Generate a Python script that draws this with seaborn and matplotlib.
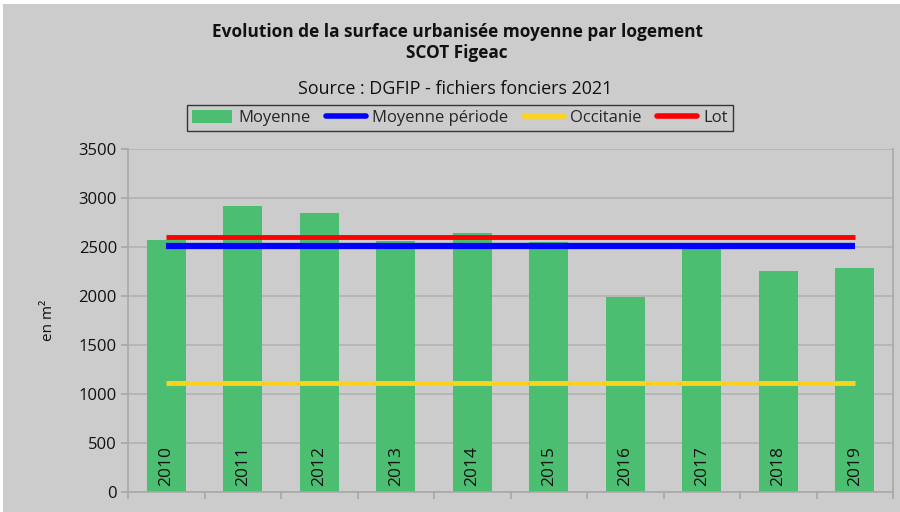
import matplotlib
matplotlib.use('Agg')
import matplotlib.pyplot as plt
from matplotlib.lines import Line2D
from matplotlib.patches import Patch, Rectangle
import pandas as pd
import seaborn as sns

# Data
years = ['2010', '2011', '2012', '2013', '2014',
         '2015', '2016', '2017', '2018', '2019']
moyenne = [2570, 2915, 2845, 2560, 2640, 2550, 1990, 2505, 2255, 2285]
moyenne_periode = 2510
occitanie = 1110
lot = 2600

GREY = '#cccccc'
GREEN = '#4cbe72'

sns.set_theme(style='white')
plt.rcParams['font.family'] = ['Open Sans', 'DejaVu Sans']

df = pd.DataFrame({'annee': years, 'surface': moyenne})

fig = plt.figure(figsize=(9, 5.12), dpi=100, facecolor='white')
fig.add_artist(Rectangle((3 / 900, 0), 1, 1 - 4 / 512, transform=fig.transFigure,
                         facecolor=GREY, edgecolor='none', zorder=-10))
ax = fig.add_axes([128 / 900, 20 / 512, 765 / 900, 343 / 512])
ax.set_facecolor(GREY)

sns.barplot(data=df, x='annee', y='surface', color=GREEN, saturation=1,
            width=0.51, ax=ax, zorder=2, linewidth=0, edgecolor='none')

xs = list(range(len(years)))
ax.plot(xs, [moyenne_periode] * len(years), color='#0000ff', lw=4.5, zorder=4,
        solid_capstyle='butt')
ax.plot(xs, [occitanie] * len(years), color='#ffd21e', lw=3.5, zorder=4,
        solid_capstyle='butt')
ax.plot(xs, [lot] * len(years), color='#ff0000', lw=3.5, zorder=4,
        solid_capstyle='butt')

for i, y in enumerate(years):
    ax.text(i, 65, y, rotation=90, ha='center', va='bottom', fontsize=12.5,
            color='#111111', zorder=5)

ax.set_xlim(-0.5, len(years) - 0.5)
ax.set_ylim(0, 3500)
ax.set_yticks(range(0, 3501, 500))
ax.tick_params(axis='y', labelsize=12, length=5, color='#a8a8a8',
               labelcolor='#111111', left=True, pad=3)
ax.set_xticks([i - 0.5 for i in range(len(years) + 1)])
ax.set_xticklabels([])
ax.tick_params(axis='x', length=5, color='#a8a8a8', bottom=True)
ax.set_xlabel('')
ax.set_ylabel('en m²', fontsize=11, color='#111111', labelpad=16)
ax.grid(axis='y', color='#b2b2b2', lw=1.2, zorder=0)
ax.set_axisbelow(True)
for side in ['left', 'bottom', 'right']:
    ax.spines[side].set_color('#a8a8a8')
    ax.spines[side].set_linewidth(1.2)
ax.spines['top'].set_visible(False)

fig.text(0.508, 1 - 32 / 512, 'Evolution de la surface urbanisée moyenne par logement',
         ha='center', va='center', fontsize=12.4, fontweight='bold', color='#111111')
fig.text(0.508, 1 - 53 / 512, 'SCOT Figeac', ha='center', va='center',
         fontsize=12.4, fontweight='bold', color='#111111')
fig.text(0.506, 1 - 89 / 512, 'Source : DGFIP - fichiers fonciers 2021',
         ha='center', va='center', fontsize=12.9, color='#111111')

handles = [Patch(facecolor=GREEN, edgecolor='none'),
           Line2D([], [], color='#0000ff', lw=4),
           Line2D([], [], color='#ffd21e', lw=4),
           Line2D([], [], color='#ff0000', lw=4)]
labels = ['Moyenne', 'Moyenne période', 'Occitanie', 'Lot']
leg = fig.legend(handles, labels, loc='center', bbox_to_anchor=(0.511, 1 - 118 / 512),
                 ncol=4, fontsize=12, frameon=True, fancybox=False,
                 handlelength=2.4, handletextpad=0.4, columnspacing=0.9,
                 borderpad=0.3, handleheight=0.8)
leg.get_frame().set_facecolor(GREY)
leg.get_frame().set_edgecolor('#111111')
leg.get_frame().set_linewidth(1.0)

fig.savefig('out.png', dpi=100, facecolor=fig.get_facecolor())
